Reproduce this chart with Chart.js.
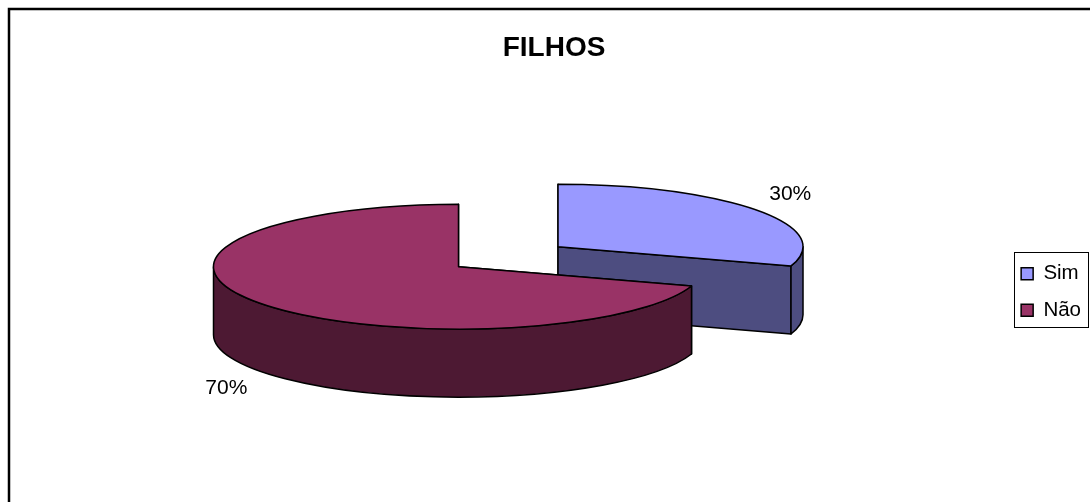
<!DOCTYPE html>
<html>
<head>
<meta charset="utf-8">
<title>FILHOS</title>
<script src="https://cdn.jsdelivr.net/npm/chart.js@4/dist/chart.umd.js"></script>
<style>
    body { margin: 0; background: #fff; overflow: hidden; }
    canvas { display: block; }
</style>
</head>
<body>
<canvas id="pieChart" width="1090" height="502"></canvas>
<script>
const chartTitle = 'FILHOS';
const categories = ['Sim', 'Não'];
const percentages = [30, 70];
const topColors = ['#9999FF', '#993366'];
const sideColors = ['#4D4D80', '#4D1933'];
const explode = [123, 0];

// flattened pie, the library only gives us the angles and the radius
const pieCenter = { x: 458.5, y: 266.7 };
const tilt = 0.2548;
const explodeTilt = 0.277;
const depth = 68;
const labelShift = [[34, -16], [-34, 85]];

const pie3d = {
    id: 'pie3d',
    beforeDraw(chart) {
        const ctx = chart.ctx;
        ctx.save();
        ctx.strokeStyle = '#000';
        ctx.lineWidth = 2.5;
        ctx.beginPath();
        ctx.moveTo(9, 502);
        ctx.lineTo(9, 9);
        ctx.lineTo(1090, 9);
        ctx.stroke();
        ctx.restore();
    },
    beforeDatasetsDraw(chart) {
        const ctx = chart.ctx;
        ctx.save();
        ctx.lineWidth = 1.5;
        ctx.strokeStyle = '#000';
        ctx.lineJoin = 'round';
        chart.getDatasetMeta(0).data.forEach(function (arc, i) {
            const a0 = arc.startAngle, a1 = arc.endAngle;
            const mid = (a0 + a1) / 2;
            const off = arc.options.offset;
            const cx = pieCenter.x + Math.cos(mid) * off;
            const cy = pieCenter.y + Math.sin(mid) * off * explodeTilt;
            const rx = arc.outerRadius, ry = arc.outerRadius * tilt;

            ctx.fillStyle = sideColors[i];
            // cut faces
            [a0, a1].forEach(function (a) {
                const px = cx + Math.cos(a) * rx, py = cy + Math.sin(a) * ry;
                ctx.beginPath();
                ctx.moveTo(cx, cy);
                ctx.lineTo(px, py);
                ctx.lineTo(px, py + depth);
                ctx.lineTo(cx, cy + depth);
                ctx.closePath();
                ctx.fill();
                ctx.stroke();
            });
            // outer wall, only the front half of the rim shows
            const s = Math.max(a0, 0), e = Math.min(a1, Math.PI);
            if (s < e) {
                ctx.beginPath();
                ctx.ellipse(cx, cy, rx, ry, 0, s, e);
                ctx.ellipse(cx, cy + depth, rx, ry, 0, e, s, true);
                ctx.closePath();
                ctx.fill();
                ctx.stroke();
            }
            // top
            ctx.fillStyle = topColors[i];
            ctx.beginPath();
            ctx.moveTo(cx, cy);
            ctx.ellipse(cx, cy, rx, ry, 0, a0, a1);
            ctx.closePath();
            ctx.fill();
            ctx.stroke();

            // percent label
            ctx.fillStyle = '#000';
            ctx.font = '21px "Liberation Sans"';
            ctx.textAlign = 'center';
            ctx.textBaseline = 'middle';
            ctx.fillText(percentages[i] + '%',
                cx + Math.cos(mid) * rx + labelShift[i][0],
                cy + Math.sin(mid) * ry + labelShift[i][1]);
        });
        ctx.restore();
        return false;
    },
    afterDraw(chart) {
        const ctx = chart.ctx;
        ctx.save();
        ctx.strokeStyle = '#000';
        ctx.lineWidth = 1;
        ctx.strokeRect(1014.5, 252.5, 74, 75);
        ctx.restore();
    }
};

new Chart(document.getElementById('pieChart'), {
    type: 'pie',
    data: {
        labels: categories,
        datasets: [{
            data: percentages,
            backgroundColor: topColors,
            borderColor: '#000',
            borderWidth: 1.5,
            offset: explode,
        }]
    },
    options: {
        responsive: false,
        animation: false,
        radius: 245,
        layout: { padding: { left: 17, right: -1, bottom: -82 } },
        plugins: {
            title: {
                display: true,
                text: chartTitle,
                color: '#000',
                font: { family: '"Liberation Sans"', size: 28, weight: 'bold' },
                padding: { top: 31, bottom: 16 },
            },
            legend: {
                position: 'right',
                labels: {
                    color: '#000',
                    font: { family: '"Liberation Sans"', size: 20.5 },
                    boxWidth: 12,
                    boxHeight: 12,
                    padding: 16,
                },
            },
            tooltip: { enabled: false },
        },
    },
    plugins: [pie3d],
});
</script>
</body>
</html>
